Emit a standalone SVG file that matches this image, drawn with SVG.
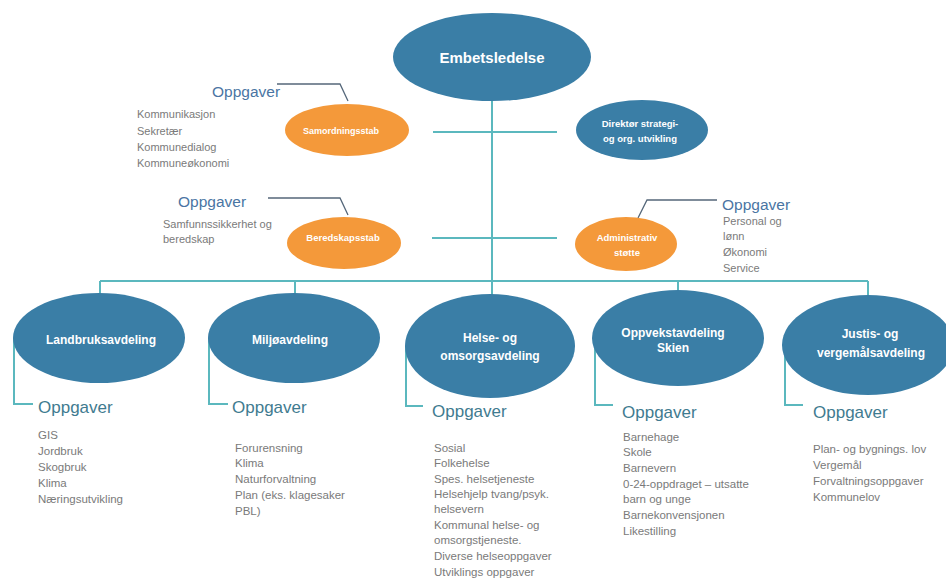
<svg xmlns="http://www.w3.org/2000/svg" width="946" height="583" viewBox="0 0 946 583">
<style>
.blue{fill:#3A7EA6}
.orange{fill:#F4993A}
.conn{stroke:#5BB8BE;stroke-width:2;fill:none}
.lead{stroke:#55677A;stroke-width:1.3;fill:none}
.nt{font-family:"Liberation Sans",Arial,sans-serif;font-weight:bold;fill:#FFFFFF;text-anchor:middle}
.op1{font-family:"Liberation Sans",Arial,sans-serif;font-size:15.5px;fill:#4A75A3}
.op2{font-family:"Liberation Sans",Arial,sans-serif;font-size:17px;fill:#3F7B90}
.li{font-family:"Liberation Sans",Arial,sans-serif;fill:#7A7A7A}
.s11{font-size:11px}
.s115{font-size:11.5px}
</style>
<rect width="946" height="583" fill="#FFFFFF"/>
<g id="connectors">
<path class="conn" d="M492 100 V281"/>
<path class="conn" d="M433 132 H557"/>
<path class="conn" d="M432 238 H557"/>
<path class="conn" d="M100 281 H868"/>
<path class="conn" d="M100 281 V330"/>
<path class="conn" d="M295 281 V330"/>
<path class="conn" d="M492 281 V330"/>
<path class="conn" d="M678 281 V330"/>
<path class="conn" d="M868 281 V330"/>
<path class="conn" d="M14 338 V404 H33"/>
<path class="conn" d="M209 338 V404 H228"/>
<path class="conn" d="M406 346 V406 H423"/>
<path class="conn" d="M595 338 V405 H613"/>
<path class="conn" d="M785 345 V405 H803"/>
<path class="lead" d="M277 84 H340 L348 101"/>
<path class="lead" d="M268 198 H340 L348 215"/>
<path class="lead" d="M638 218 L647 200 H717"/>
</g>
<g id="embetsledelse">
<ellipse class="blue" cx="492" cy="57" rx="99" ry="44"/>
<text class="nt" x="492" y="63" font-size="15">Embetsledelse</text>
</g>
<g id="samordningsstab">
<ellipse class="orange" cx="347" cy="130" rx="62" ry="26"/>
<text class="nt" x="341" y="134" font-size="9">Samordningsstab</text>
<text class="op1" x="212" y="97">Oppgaver</text>
<text class="li s11" x="137" y="118">Kommunikasjon</text>
<text class="li s11" x="137" y="135">Sekretær</text>
<text class="li s11" x="137" y="151">Kommunedialog</text>
<text class="li s11" x="137" y="167">Kommuneøkonomi</text>
</g>
<g id="direktor">
<ellipse class="blue" cx="642" cy="130" rx="66" ry="30"/>
<text class="nt" x="640" y="127" font-size="9.5">Direktør strategi-</text>
<text class="nt" x="640" y="142" font-size="9.5">og org. utvikling</text>
</g>
<g id="beredskapsstab">
<ellipse class="orange" cx="344" cy="243" rx="57" ry="26"/>
<text class="nt" x="343" y="241" font-size="9.5">Beredskapsstab</text>
<text class="op1" x="178" y="207" font-size="16px">Oppgaver</text>
<text class="li s11" x="163" y="228">Samfunnssikkerhet og</text>
<text class="li s11" x="163" y="243">beredskap</text>
</g>
<g id="administrativ">
<ellipse class="orange" cx="626" cy="244" rx="51" ry="27"/>
<text class="nt" x="627" y="241" font-size="9.5">Administrativ</text>
<text class="nt" x="627" y="256" font-size="9.5">støtte</text>
<text class="op1" x="722" y="210">Oppgaver</text>
<text class="li s11" x="723" y="225">Personal og</text>
<text class="li s11" x="723" y="240">lønn</text>
<text class="li s11" x="723" y="256">Økonomi</text>
<text class="li s11" x="723" y="272">Service</text>
</g>
<g id="landbruk">
<ellipse class="blue" cx="99" cy="338" rx="86" ry="45"/>
<text class="nt" x="101" y="344" font-size="12">Landbruksavdeling</text>
<text class="op2" x="38" y="413">Oppgaver</text>
<text class="li s115" x="38" y="439">GIS</text>
<text class="li s115" x="38" y="455">Jordbruk</text>
<text class="li s115" x="38" y="471">Skogbruk</text>
<text class="li s115" x="38" y="487">Klima</text>
<text class="li s115" x="38" y="503">Næringsutvikling</text>
</g>
<g id="miljo">
<ellipse class="blue" cx="294" cy="338" rx="86" ry="45"/>
<text class="nt" x="290" y="344" font-size="12">Miljøavdeling</text>
<text class="op2" x="232" y="413">Oppgaver</text>
<text class="li s115" x="235" y="452">Forurensning</text>
<text class="li s115" x="235" y="467">Klima</text>
<text class="li s115" x="235" y="483">Naturforvaltning</text>
<text class="li s115" x="235" y="499">Plan (eks. klagesaker</text>
<text class="li s115" x="235" y="515">PBL)</text>
</g>
<g id="helse">
<ellipse class="blue" cx="490" cy="346" rx="85" ry="52"/>
<text class="nt" x="490" y="342" font-size="12">Helse- og</text>
<text class="nt" x="490" y="360" font-size="12">omsorgsavdeling</text>
<text class="op2" x="432" y="417">Oppgaver</text>
<text class="li s115" x="434" y="452">Sosial</text>
<text class="li s115" x="434" y="467">Folkehelse</text>
<text class="li s115" x="434" y="483">Spes. helsetjeneste</text>
<text class="li s115" x="434" y="498">Helsehjelp tvang/psyk.</text>
<text class="li s115" x="434" y="513">helsevern</text>
<text class="li s115" x="434" y="529">Kommunal helse- og</text>
<text class="li s115" x="434" y="544">omsorgstjeneste.</text>
<text class="li s115" x="434" y="560">Diverse helseoppgaver</text>
<text class="li s115" x="434" y="576">Utviklings oppgaver</text>
</g>
<g id="oppvekst">
<ellipse class="blue" cx="678" cy="338" rx="86" ry="48"/>
<text class="nt" x="673" y="337" font-size="12">Oppvekstavdeling</text>
<text class="nt" x="673" y="352" font-size="12">Skien</text>
<text class="op2" x="622" y="418">Oppgaver</text>
<text class="li s115" x="623" y="441">Barnehage</text>
<text class="li s115" x="623" y="456">Skole</text>
<text class="li s115" x="623" y="472">Barnevern</text>
<text class="li s115" x="623" y="488">0-24-oppdraget – utsatte</text>
<text class="li s115" x="623" y="503">barn og unge</text>
<text class="li s115" x="623" y="519">Barnekonvensjonen</text>
<text class="li s115" x="623" y="535">Likestilling</text>
</g>
<g id="justis">
<ellipse class="blue" cx="868" cy="345" rx="86" ry="50"/>
<text class="nt" x="870" y="338" font-size="12">Justis- og</text>
<text class="nt" x="871" y="357" font-size="12">vergemålsavdeling</text>
<text class="op2" x="813" y="418">Oppgaver</text>
<text class="li s115" x="813" y="453">Plan- og bygnings. lov</text>
<text class="li s115" x="813" y="469">Vergemål</text>
<text class="li s115" x="813" y="485">Forvaltningsoppgaver</text>
<text class="li s115" x="813" y="501">Kommunelov</text>
</g>
</svg>
